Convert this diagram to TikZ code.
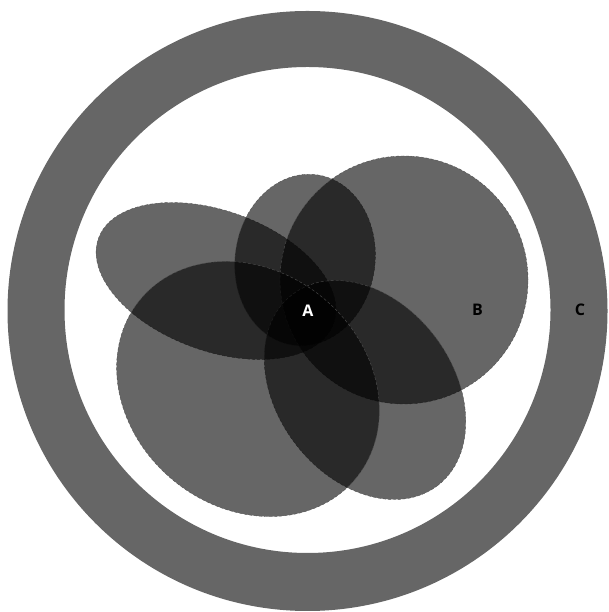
\documentclass[tikz,border=0pt]{standalone}
\usepackage{fontspec}
\setsansfont{Open Sans}
\usepackage{tikz}
\usepackage{xcolor}
\definecolor{ringgray}{RGB}{102,102,102}
\definecolor{seamgray}{RGB}{80,80,80}

\begin{document}
\begin{tikzpicture}[
    x=1pt, y=1pt,
    ring/.style={fill=ringgray,even odd rule},
    petal/.style={fill=black,fill opacity=0.6,draw=seamgray,densely dashed,line width=0.4pt},
    tag/.style={font=\sffamily\bfseries\fontsize{16}{18}\selectfont,inner sep=0pt}
  ]
    \useasboundingbox (0,0) rectangle (608,612);

    \fill[ring] (307.5,301) circle[radius=300] (307.5,302) circle[radius=243];

    \filldraw[petal,rotate around={-20:(216,331)}] (216,331) ellipse[x radius=125,y radius=70];
    \filldraw[petal,rotate around={-8:(305,352)}] (305,352) ellipse[x radius=70,y radius=86];
    \filldraw[petal] (404,332) circle[radius=124];
    \filldraw[petal,rotate around={-53:(365,222)}] (365,222) ellipse[x radius=120,y radius=88];
    \filldraw[petal,rotate around={-40:(248,223)}] (248,223) ellipse[x radius=140,y radius=118];

    \node[tag,text=white] (a) at (308,301) {A};
    \node[tag] (b) at (477.5,302) {B};
    \node[tag] (c) at (580,302) {C};
\end{tikzpicture}
\end{document}
